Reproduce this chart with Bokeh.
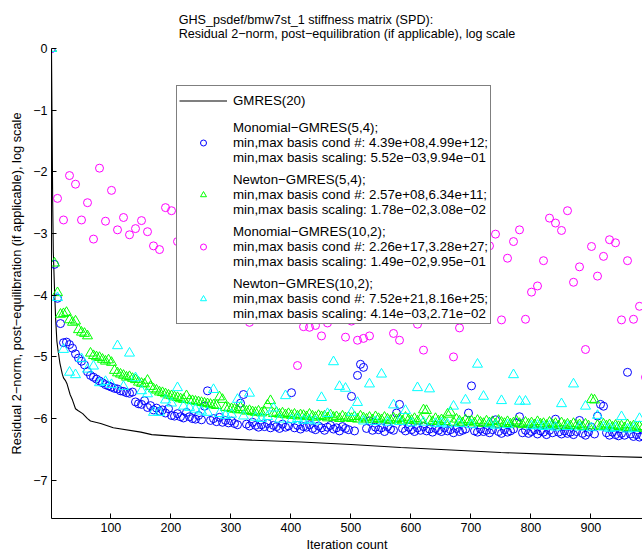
from bokeh.plotting import figure
from bokeh.models import Range1d, FixedTicker, Legend, LegendItem
from bokeh.embed import file_html
from bokeh.resources import INLINE

FONT = "Liberation Sans"

TITLE = ("GHS_psdef/bmw7st_1 stiffness matrix (SPD):\n"
         "Residual 2\u2212norm, post\u2212equilibration (if applicable), log scale")
X_LABEL = "Iteration count"
Y_LABEL = "Residual 2\u2212norm, post\u2212equilibration (if applicable), log scale"

x_ticks = [100, 200, 300, 400, 500, 600, 700, 800, 900]
y_ticks = [0, -1, -2, -3, -4, -5, -6, -7]
y_tick_labels = ["0", "\u22121", "\u22122", "\u22123", "\u22124", "\u22125", "\u22126", "\u22127"]

# GMRES(20): log10 residual vs iteration
gmres_x = [1, 2, 3, 4, 5, 6, 8, 10, 12, 15, 19, 21, 24, 27, 32, 36, 41, 45, 53, 61, 66,
           83, 104, 150, 168, 224, 250, 335, 417, 500, 583, 667, 750, 833, 917, 986]
gmres_y = [0, -1.3, -2.5, -3.3, -3.6, -3.9, -4.4, -4.75, -4.9, -5.1, -5.28, -5.34, -5.38,
           -5.44, -5.61, -5.7, -5.84, -5.87, -5.92, -6.0, -6.04, -6.08, -6.15, -6.22, -6.26,
           -6.3, -6.31, -6.35, -6.38, -6.42, -6.47, -6.51, -6.55, -6.58, -6.61, -6.63]

# s=5 variants: one point every 5 iterations
iters_s5 = list(range(1, 987, 5))
mono54_y = [
    0, -3.50, -4.05, -4.46, -4.77, -4.76, -4.80, -4.86, -4.95, -5.02,
    -5.07, -5.13, -5.24, -5.30, -5.33, -5.36, -5.39, -5.42, -5.45, -5.47,
    -5.49, -5.51, -5.52, -5.55, -5.56, -5.58, -5.59, -5.57, -5.73, -5.76,
    -5.77, -5.71, -5.82, -5.79, -5.86, -5.83, -5.88, -5.86, -5.91, -5.84,
    -5.95, -5.96, -5.92, -5.97, -5.99, -5.90, -5.97, -6.00, -6.01, -5.95,
    -6.02, -5.80, -5.55, -6.03, -6.00, -6.05, -5.98, -6.06, -6.03, -6.07,
    -6.04, -6.08, -6.10, -5.75, -5.61, -6.09, -6.12, -6.06, -6.11, -6.14,
    -6.10, -6.13, -6.08, -6.15, -6.11, -6.13, -6.16, -6.09, -6.14, -6.12,
    -5.58, -6.15, -6.11, -6.17, -6.13, -6.14, -6.10, -6.16, -6.18, -6.12,
    -6.15, -6.19, -6.14, -6.11, -6.17, -6.15, -6.20, -6.13, -6.16, -6.18,
    -5.64, -6.20, -5.30, -5.12, -5.17, -6.16, -6.04, -6.19, -6.14, -6.18,
    -6.15, -6.21, -6.13, -6.17, -6.19, -5.91, -5.77, -6.16, -6.20, -6.14,
    -6.18, -6.21, -6.15, -6.19, -6.13, -6.20, -6.17, -6.22, -6.16, -6.19,
    -6.21, -6.15, -6.20, -6.18, -6.23, -6.16, -6.21, -6.19, -6.17, -5.91,
    -5.47, -6.20, -6.22, -6.17, -6.21, -6.19, -6.23, -6.18, -6.02, -6.21,
    -6.24, -6.18, -6.22, -6.20, -6.17, -6.07, -5.97, -6.23, -6.19, -6.24,
    -6.21, -6.18, -6.25, -6.20, -6.22, -6.26, -6.19, -6.23, -6.01, -6.22,
    -6.25, -6.20, -6.24, -6.22, -6.26, -6.21, -6.03, -6.24, -6.27, -6.22,
    -6.14, -6.25, -5.96, -5.77, -5.80, -6.23, -6.27, -6.22, -6.26, -6.28,
    -6.24, -6.27, -5.25, -6.25, -6.29, -6.26, -6.30, -6.28,
]
newton54_y = [
    0, -3.48, -3.96, -4.31, -4.30, -4.28, -4.40, -4.44, -4.42, -4.56,
    -4.60, -4.62, -4.66, -4.94, -4.98, -5.00, -5.01, -5.04, -5.07, -5.05,
    -5.09, -5.22, -5.26, -5.28, -5.30, -5.33, -5.32, -5.35, -5.37, -5.41,
    -5.43, -5.44, -5.38, -5.48, -5.52, -5.54, -5.57, -5.58, -5.60, -5.62,
    -5.63, -5.65, -5.66, -5.68, -5.69, -5.63, -5.70, -5.71, -5.72, -5.73,
    -5.74, -5.75, -5.76, -5.77, -5.78, -5.79, -5.65, -5.69, -5.82, -5.83,
    -5.84, -5.85, -5.86, -5.82, -5.86, -5.88, -5.87, -5.89, -5.90, -5.88,
    -5.91, -5.89, -5.78, -5.71, -5.92, -5.90, -5.93, -5.91, -5.94, -5.92,
    -5.95, -5.93, -5.96, -5.94, -5.95, -5.97, -5.93, -5.96, -5.98, -5.95,
    -5.97, -5.96, -5.99, -5.94, -5.98, -5.97, -6.00, -5.96, -5.99, -5.98,
    -6.00, -5.97, -6.01, -5.96, -5.99, -6.01, -5.98, -6.02, -5.97, -6.00,
    -6.02, -5.98, -6.01, -6.03, -5.99, -6.02, -6.00, -6.04, -5.98, -6.02,
    -6.03, -6.00, -6.04, -6.01, -5.86, -5.87, -6.03, -6.05, -6.00, -6.04,
    -6.02, -6.05, -5.93, -5.90, -6.06, -6.01, -6.04, -6.07, -6.02, -6.05,
    -6.04, -6.07, -6.03, -6.06, -6.08, -6.04, -6.07, -6.05, -6.09, -6.03,
    -6.06, -6.08, -6.05, -6.09, -6.07, -6.04, -6.08, -6.10, -6.06, -6.09,
    -6.07, -6.10, -6.05, -6.09, -6.08, -6.11, -6.06, -6.10, -6.08, -6.12,
    -6.07, -6.11, -6.09, -6.12, -6.08, -6.11, -6.10, -6.13, -6.09, -6.12,
    -5.69, -5.70, -6.11, -6.13, -6.09, -6.12, -6.10, -6.14, -6.11, -6.13,
    -6.12, -6.15, -6.10, -6.14, -6.12, -6.15, -6.13, -6.16,
]

# s=10 variants: one point every 10 iterations
iters_s10 = list(range(1, 982, 10))
newton102_y = [
    0, -4.04, -4.88, -5.25, -5.29, -5.03, -5.20, -5.15, -5.42, -5.40,
    -5.45, -4.82, -5.48, -4.94, -5.34, -5.55, -5.60, -5.90, -5.90, -5.70,
    -5.75, -5.50, -5.80, -5.82, -5.85, -5.88, -5.90, -5.53, -5.92, -5.95,
    -5.93, -5.69, -5.96, -5.59, -5.98, -6.00, -5.97, -5.83, -6.01, -5.63,
    -6.02, -6.00, -6.03, -6.02, -6.04, -5.66, -5.92, -5.08, -5.48, -5.51,
    -5.90, -5.74, -6.04, -5.44, -6.05, -5.28, -6.06, -5.78, -6.05, -5.87,
    -6.07, -5.50, -6.06, -5.52, -6.08, -6.07, -6.09, -5.80, -6.08, -5.70,
    -6.10, -5.12, -5.64, -6.09, -6.11, -5.71, -6.10, -5.29, -5.72, -5.72,
    -6.12, -6.11, -6.13, -6.12, -6.14, -5.76, -6.13, -5.44, -6.14, -5.80,
    -6.15, -5.95, -6.14, -6.16, -6.15, -5.97, -6.17, -6.16, -6.00,
]

# Monomial-GMRES(10,2): only the points that are visible (others lie behind the legend)
mono102_x = [1, 11, 21, 31, 41, 51, 61, 71, 81, 91, 101, 111, 121, 131, 141, 151, 161,
             171, 181, 191, 201, 211,
             331, 411, 421, 431, 441, 451, 461, 491, 501, 511, 521, 531, 571, 581, 611,
             621, 671, 681,
             731, 741, 751, 761, 771, 781, 791, 801, 811, 821, 831, 841, 851, 861, 871,
             881, 891, 901, 911, 921, 931, 941, 951, 961, 971, 981, 991]
mono102_y = [0, -2.43, -2.78, -2.06, -2.20, -2.78, -2.50, -3.09, -1.94, -2.80, -2.30,
             -2.94, -2.74, -3.02, -2.92, -2.79, -2.97, -3.20, -3.26, -2.58, -2.63, -3.13,
             -4.44, -5.14, -4.51, -4.52, -4.49, -4.66, -4.45, -4.68, -4.42, -4.73, -4.70,
             -4.66, -4.62, -4.73, -4.47, -4.89, -5.00, -4.53,
             -3.20, -3.01, -4.40, -3.40, -3.13, -2.94, -4.39, -3.95, -3.85, -3.44, -2.75,
             -2.83, -2.95, -2.63, -3.79, -3.54, -4.88, -3.21, -3.69, -3.37, -3.10, -3.15,
             -4.40, -3.44, -4.39, -4.18, -5.33]

legend_labels = [
    "GMRES(20)",
    "Monomial\u2212GMRES(5,4);\nmin,max basis cond #: 4.39e+08,4.99e+12;\nmin,max basis scaling: 5.52e\u221203,9.94e\u221201",
    "Newton\u2212GMRES(5,4);\nmin,max basis cond #: 2.57e+08,6.34e+11;\nmin,max basis scaling: 1.78e\u221202,3.08e\u221202",
    "Monomial\u2212GMRES(10,2);\nmin,max basis cond #: 2.26e+17,3.28e+27;\nmin,max basis scaling: 1.49e\u221202,9.95e\u221201",
    "Newton\u2212GMRES(10,2);\nmin,max basis cond #: 7.52e+21,8.16e+25;\nmin,max basis scaling: 4.14e\u221203,2.71e\u221202",
]

p = figure(width=642, height=554, output_backend="svg", toolbar_location=None,
           x_range=Range1d(1, 986), y_range=Range1d(-7.62, 0),
           min_border_left=51, min_border_right=0, min_border_top=48, min_border_bottom=36)
p.background_fill_color = "white"
p.border_fill_color = "white"
p.outline_line_color = None
p.xgrid.visible = False
p.ygrid.visible = False

p.title.text = TITLE
p.title.align = "center"
p.title.offset = 10
p.title.text_font = FONT
p.title.text_font_size = "12.6px"
p.title.text_font_style = "normal"
p.title.text_color = "black"
p.title.text_line_height = 1.0
p.title.standoff = 15

for ax in (p.xaxis[0], p.yaxis[0]):
    ax.axis_line_color = "black"
    ax.axis_line_width = 1
    ax.major_tick_in = 5
    ax.major_tick_out = 0
    ax.minor_tick_in = 0
    ax.minor_tick_out = 0
    ax.major_tick_line_color = "black"
    ax.major_label_text_font = FONT
    ax.major_label_text_font_size = "12.5px"
    ax.major_label_text_color = "black"
    ax.axis_label_text_font = FONT
    ax.axis_label_text_font_size = "12.8px"
    ax.axis_label_text_font_style = "normal"
    ax.axis_label_text_color = "black"

p.xaxis.ticker = FixedTicker(ticks=x_ticks)
p.xaxis.axis_label = X_LABEL
p.xaxis.major_label_standoff = 4
p.xaxis.axis_label_standoff = 2
p.yaxis.ticker = FixedTicker(ticks=y_ticks)
p.yaxis.major_label_overrides = {t: s for t, s in zip(y_ticks, y_tick_labels)}
p.yaxis.axis_label = Y_LABEL
p.yaxis.major_label_standoff = 4
p.yaxis.axis_label_standoff = 6

r_gmres = p.line(gmres_x, gmres_y, line_color="black", line_width=1.1)
r_m54 = p.scatter(iters_s5, mono54_y, marker="circle", size=8, fill_color=None,
                  line_color="#0000ff", line_width=1)
r_n54 = p.scatter(iters_s5, newton54_y, marker="triangle", size=10, fill_color=None,
                  line_color="#00ff00", line_width=1)
r_m102 = p.scatter(mono102_x, mono102_y, marker="circle", size=8, fill_color=None,
                   line_color="#ff00ff", line_width=1)
r_n102 = p.scatter(iters_s10, newton102_y, marker="triangle", size=10, fill_color=None,
                   line_color="#00ffff", line_width=1)

legend = Legend(items=[LegendItem(label=l, renderers=[r]) for l, r in
                       zip(legend_labels, [r_gmres, r_m54, r_n54, r_m102, r_n102])],
                location=(125, 194))
legend.label_text_font = FONT
legend.label_text_font_size = "13.3px"
legend.label_text_color = "black"
legend.glyph_width = 48
legend.glyph_height = 15
legend.label_height = 25
legend.label_standoff = 6
legend.spacing = 7
legend.padding = 2
legend.margin = 0
legend.border_line_color = "black"
legend.border_line_width = 1
legend.background_fill_color = "white"
legend.background_fill_alpha = 1.0
p.add_layout(legend)

open("out.html", "w").write(file_html(p, INLINE))
